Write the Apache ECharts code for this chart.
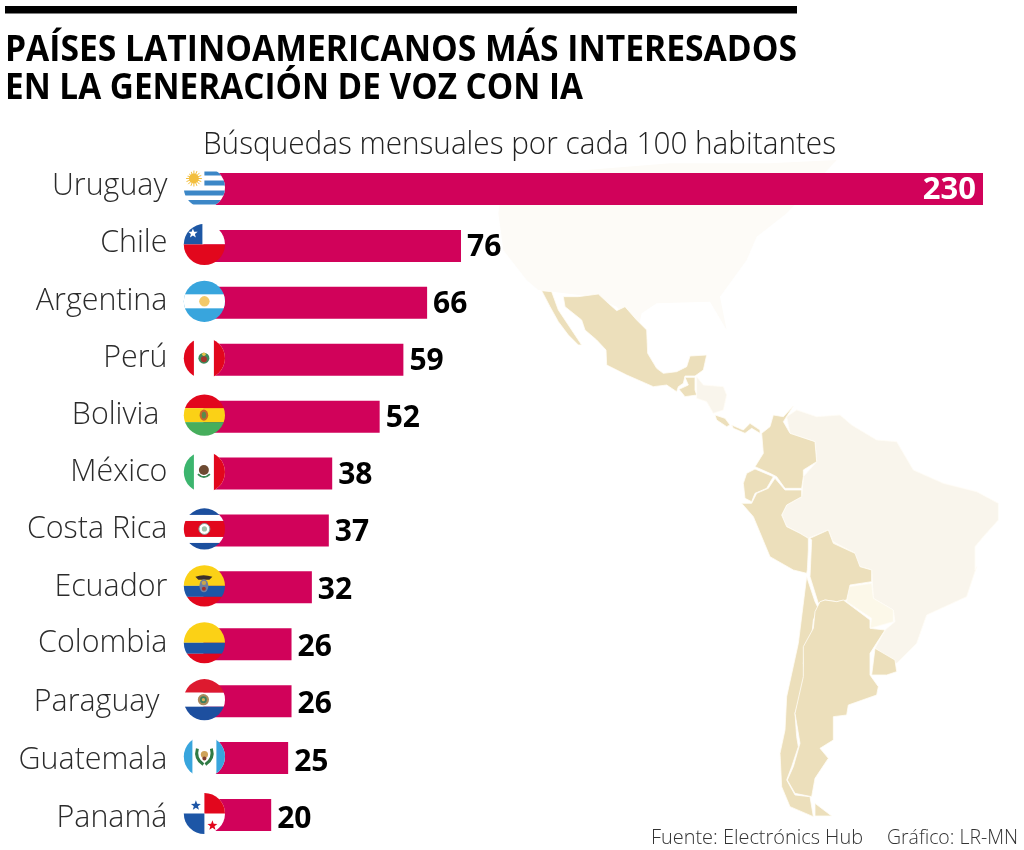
<!DOCTYPE html>
<html><head><meta charset="utf-8">
<style>html,body{margin:0;padding:0;background:#fff}#c{width:1024px;height:850px}</style>
<script src="https://cdn.jsdelivr.net/npm/echarts@6/dist/echarts.min.js"></script>
</head><body><div id="c"></div>
<script>
const categories = ['Uruguay','Chile','Argentina','Perú','Bolivia','México','Costa Rica','Ecuador','Colombia','Paraguay','Guatemala','Panamá'];
const values = [230,76,66,59,52,38,37,32,26,26,25,20];
const titleLines = ['PAÍSES LATINOAMERICANOS MÁS INTERESADOS','EN LA GENERACIÓN DE VOZ CON IA'];
const subtitle = 'Búsquedas mensuales por cada 100 habitantes';
const source = 'Fuente: Electrónics Hub';
const credit = 'Gráfico: LR-MN';

/* ---------- label layout nudges (the reference's hand placed text) ---------- */
const labelIndent = {Bolivia:8, Paraguay:8};
const labelDown = [1,1,2,2,2,2,2,3,3,5,6,7];
const valueDown = [2,2,2,2,2,2,2,3,3,3,4,4];

/* ---------- flags (decorative symbols) ---------- */
const R='#e2071d',B='#1c4f9e',LB='#38a5dd',Y='#fbd116',G='#46ae5c',W='#fff';
const rect=(x,y,w,h,f)=>`<rect x="${x}" y="${y}" width="${w}" height="${h}" fill="${f}"/>`;
const circ=(x,y,r,f,extra='')=>`<circle cx="${x}" cy="${y}" r="${r}" fill="${f}" ${extra}/>`;
function star(cx,cy,r,f){let p=[];for(let i=0;i<10;i++){const a=-Math.PI/2+i*Math.PI/5,q=i%2?r*0.42:r;p.push((cx+q*Math.cos(a)).toFixed(2)+','+(cy+q*Math.sin(a)).toFixed(2));}return `<polygon points="${p.join(' ')}" fill="${f}"/>`;}
function sun(cx,cy,r,f){let s=circ(cx,cy,r*0.62,f);for(let i=0;i<16;i++){const a=i*Math.PI/8;s+=`<line x1="${cx}" y1="${cy}" x2="${(cx+r*Math.cos(a)).toFixed(2)}" y2="${(cy+r*Math.sin(a)).toFixed(2)}" stroke="${f}" stroke-width="1"/>`;}return s;}
const flagArt={
 'Uruguay':rect(0,0,44,44,W)+rect(22,6,22,4,'#3c87c7')+rect(22,15,22,5,'#3c87c7')+rect(0,25,44,5,'#3c87c7')+rect(0,34.5,44,4.5,'#3c87c7')+sun(11.5,13,8,'#f3bf3f'),
 'Chile':rect(0,0,44,22,W)+rect(0,0,20,22,'#1d57a4')+rect(0,22,44,22,R)+star(10.5,11,5,W),
 'Argentina':rect(0,0,44,44,LB)+rect(0,15,44,14,W)+circ(22,22,5.2,'#f3c969'),
 'Perú':rect(0,0,44,44,W)+rect(0,0,11.5,44,R)+rect(31.5,0,12.5,44,R)+circ(21.5,22,5.5,'#3d8a5b')+circ(21.5,23,3,'#a6342c')+circ(21.5,18,1.8,'#e8c24a'),
 'Bolivia':rect(0,0,44,15,R)+rect(0,15,44,14,Y)+rect(0,29,44,15,G)+`<ellipse cx="21.5" cy="22" rx="4.3" ry="5.6" fill="#c9662c"/>`+`<ellipse cx="21.5" cy="22" rx="2.2" ry="3.4" fill="#5a8a4a"/>`,
 'México':rect(0,0,44,44,W)+rect(0,0,11.5,44,'#3cb56e')+rect(31.5,0,12.5,44,R)+circ(21.5,20,5,'#6d4a32')+`<path d="M15.5 24 Q21.5 30 27.5 24" stroke="#3a8a55" stroke-width="1.8" fill="none"/>`,
 'Costa Rica':rect(0,0,44,8,B)+rect(0,8,44,6,W)+rect(0,14,44,16,R)+rect(0,30,44,6,W)+rect(0,36,44,8,B)+circ(22,22,5.5,W,'stroke="#8a9a94" stroke-width="1"')+circ(22,22,2.6,'#9cc0a8'),
 'Ecuador':rect(0,0,44,22,Y)+rect(0,22,44,11,'#1d56a6')+rect(0,33,44,11,R)+`<path d="M13 13 Q21 10 30 13 L27 16 L16 16Z" fill="#3b2e2a"/>`+`<ellipse cx="21.5" cy="22" rx="4.5" ry="6.5" fill="#6f7ea0"/>`+circ(21.5,19,2.2,'#c9a44d')+circ(21.5,25,2,'#a4312d'),
 'Colombia':rect(0,0,44,22,Y)+rect(0,22,44,11,'#1d56a6')+rect(0,33,44,11,R),
 'Paraguay':rect(0,0,44,15,'#dd1a2f')+rect(0,15,44,14,W)+rect(0,29,44,15,'#1d4f9f')+circ(21,22,5.6,'#a98a5d')+circ(21,22,3.4,'#3f7f5c')+circ(21,22,1.6,'#d9b25a'),
 'Guatemala':rect(0,0,44,44,W)+rect(0,0,10,44,LB)+rect(34,0,10,44,LB)+`<path d="M15 14 Q12 24 21 30 M29 14 Q32 24 23 30" stroke="#2f7a45" stroke-width="3" fill="none"/>`+circ(22,20,3.6,'#cfa35a')+circ(22,24,2,'#7e3d2e'),
 'Panamá':rect(0,0,44,44,W)+rect(22,0,22,22,R)+rect(0,22,22,22,'#1d56a6')+star(13.5,14,5.2,'#1d56a6')+star(30,34,5.2,R)
};
function flagUri(name){
 const svg=`<svg xmlns="http://www.w3.org/2000/svg" width="176" height="176" viewBox="0 0 44 44"><defs><clipPath id="k"><circle cx="22" cy="22" r="20.6"/></clipPath></defs><g clip-path="url(#k)">${flagArt[name]}</g></svg>`;
 return 'image://data:image/svg+xml;charset=utf-8,'+encodeURIComponent(svg);
}

/* ---------- decorative background map ---------- */
const TAN='#ecdfbb', LIGHT='#f9f5ec', FAINT='#fdfbf7', CREAM='#fcf8e9';
const z4=p=>p.map(q=>[500+q[0]/3,270+q[1]/3]);
const z5=p=>p.map(q=>[700+q[0]/3,540+q[1]/3]);
const z7=p=>p.map(q=>[470+q[0]/3,140+q[1]/3]);
const mapShapes=[
 [FAINT,z7([[85,220],[100,330],[170,420],[205,450],[370,470],[440,500],[505,565],[515,520],[560,490],[720,485],[770,570],[750,470],[830,360],[860,290],[950,220],[1100,60],[900,70],[600,70],[100,110]])],
 [LIGHT,z4([[590,320],[610,345],[670,350],[680,375],[670,420],[640,430],[620,395],[590,385]])],
 [LIGHT,z4([[860,440],[890,420],[950,440],[1020,435],[1055,465],[1130,510],[1190,515],[1240,600],[1330,640],[1430,665],[1495,700],[1495,750],[1450,800],[1425,830],[1425,900]]).concat(z5([[830,80],[800,170],[680,225],[650,310],[590,370],[525,325],[555,270],[585,245],[580,210],[520,175],[515,90],[480,80],[440,30],[390,0]]),z4([[1065,850],[1000,820],[985,780],[925,805],[900,790],[860,770],[845,735],[860,705],[905,680],[910,620],[950,575],[945,515],[870,490]]))],
 [CREAM,z5([[445,140],[515,130],[520,175],[580,210],[580,245],[510,265],[515,235],[440,185]])],
 [TAN,z4([[125,62],[155,65],[175,120],[205,165],[245,225],[235,225],[205,195],[175,155],[150,110]])],
 [TAN,z4([[190,80],[235,80],[295,72],[325,100],[350,122],[375,110],[410,150],[440,180],[443,250],[470,295],[490,310],[530,305],[560,290],[570,258],[620,255],[610,300],[585,318],[555,318],[550,340],[535,350],[530,365],[500,345],[460,350],[380,315],[320,285],[318,240],[290,210],[255,180],[245,150],[195,110]])],
 [TAN,z4([[555,322],[585,322],[585,360],[590,375],[555,380],[537,358],[565,345]])],
 [TAN,z4([[645,435],[675,445],[690,465],[680,470],[650,450]])],
 [TAN,z4([[695,465],[730,480],[750,460],[780,480],[780,490],[755,475],[735,490],[700,475]])],
 [TAN,z4([[880,408],[850,440],[820,435],[810,470],[785,490],[790,550],[765,590],[810,610],[830,620],[855,655],[905,655],[910,620],[910,600],[950,575],[945,515],[870,490],[850,455]])],
 [TAN,z4([[765,597],[820,620],[800,655],[765,670],[755,695],[735,685],[730,640],[740,610]])],
 [TAN,z4([[825,625],[855,660],[905,660],[905,680],[860,705],[845,735],[860,770],[900,790],[925,805],[925,840],[922,900]]).concat(z5([[320,100]]),z4([[880,900],[810,860],[760,740],[725,700],[755,700],[770,670],[805,655]]))],
 [TAN,z4([[930,805],[985,780],[1000,820],[1065,850],[1080,890]]).concat(z5([[480,80],[515,90],[515,125],[450,135],[440,180],[410,185],[375,180],[355,190],[330,110],[335,0]]))],
 [TAN,z5([[320,110],[345,185],[355,205],[340,240],[335,290],[315,320],[310,370],[315,400],[300,470],[285,520],[290,590],[295,620],[275,680],[260,720],[285,765],[330,770],[340,830],[270,800],[245,740],[240,640],[255,570],[260,470],[295,310]])],
 [TAN,z5([[360,185],[375,180],[410,185],[430,180],[510,240],[510,265],[555,270],[510,340],[510,405],[535,440],[530,465],[445,495],[440,525],[400,530],[400,600],[360,625],[385,655],[345,715],[335,770],[285,760],[262,720],[280,680],[300,610],[285,520],[310,410],[310,320],[340,265],[345,215]])],
 [TAN,z5([[345,790],[395,828],[345,828]])],
 [TAN,z5([[525,325],[585,360],[590,395],[560,405],[515,405]])]
];

/* ---------- text fitted to reference widths ---------- */
const mctx=document.createElement('canvas').getContext('2d');
function fitText(text,x,y,width,font,fill){
 mctx.font=font; const w=mctx.measureText(text).width;
 return {type:'text',x:x,y:y,scaleX:width/w,z:20,style:{text:text,font:font,fill:fill,textAlign:'left',textVerticalAlign:'middle'}};
}
const SANS='"Open Sans","Noto Sans",sans-serif';
const graphics=[
 ...mapShapes.map(s=>({type:'polygon',z:-10,silent:true,shape:{points:s[1]},style:{fill:s[0],stroke:s[0]===FAINT?FAINT:'#fffdf6',lineWidth:s[0]===FAINT?0:0.8}})),
 {type:'rect',z:20,shape:{x:5,y:6,width:792,height:7.5},style:{fill:'#000'}},
 fitText(titleLines[0],5,51,792,'700 36px '+SANS,'#000'),
 fitText(titleLines[1],5,89,578,'700 36px '+SANS,'#000'),
 fitText(subtitle,203,145,633,'300 31px '+SANS,'#222'),
 fitText(source,651,838,212,'300 21px '+SANS,'#333'),
 fitText(credit,887,838,131,'300 21px '+SANS,'#333')
];

/* one rich style per category: vertical nudge via padding (padding shifts by half) */
const richStyles={p:{width:8}};
categories.forEach((c,i)=>{
 const d=2*labelDown[i]-7;
 richStyles['s'+i]={fontFamily:SANS,fontWeight:300,fontSize:30.4,color:'#2b2b2b',padding:[Math.max(0,d),0,Math.max(0,-d),0]};
});

const chart=echarts.init(document.getElementById('c'),null,{renderer:'canvas'});
chart.setOption({
 animation:false,
 backgroundColor:'#fff',
 grid:{left:203.4,right:41,top:160.55,bottom:6.55},
 xAxis:{type:'value',min:0,max:230,show:false},
 yAxis:{type:'category',inverse:true,data:categories,
  axisLine:{show:false},axisTick:{show:false},splitLine:{show:false},
  axisLabel:{margin:36,color:'#2b2b2b',interval:0,
   formatter:(v,i)=>labelIndent[v]?`{s${i}|${v}}{p|}`:`{s${i}|${v}}`,
   rich:richStyles}},
 graphic:graphics,
 series:[
  {type:'bar',data:values.map((v,i)=>({value:v,label:i===0?{position:'insideRight',color:'#fff',distance:7,fontSize:31,offset:[0,valueDown[i]-1]}:{offset:[0,valueDown[i]]}})),
   barWidth:32,itemStyle:{color:'#d1025a'},z:2,
   label:{show:true,position:'right',distance:6,color:'#000',fontFamily:SANS,fontWeight:700,fontSize:30}},
  {type:'scatter',clip:false,z:5,silent:true,symbolOffset:[1,-1.5],symbolSize:44,itemStyle:{opacity:1},
   data:categories.map((c,i)=>({value:[0,c],symbol:flagUri(c)}))}
 ]
});
</script></body></html>
